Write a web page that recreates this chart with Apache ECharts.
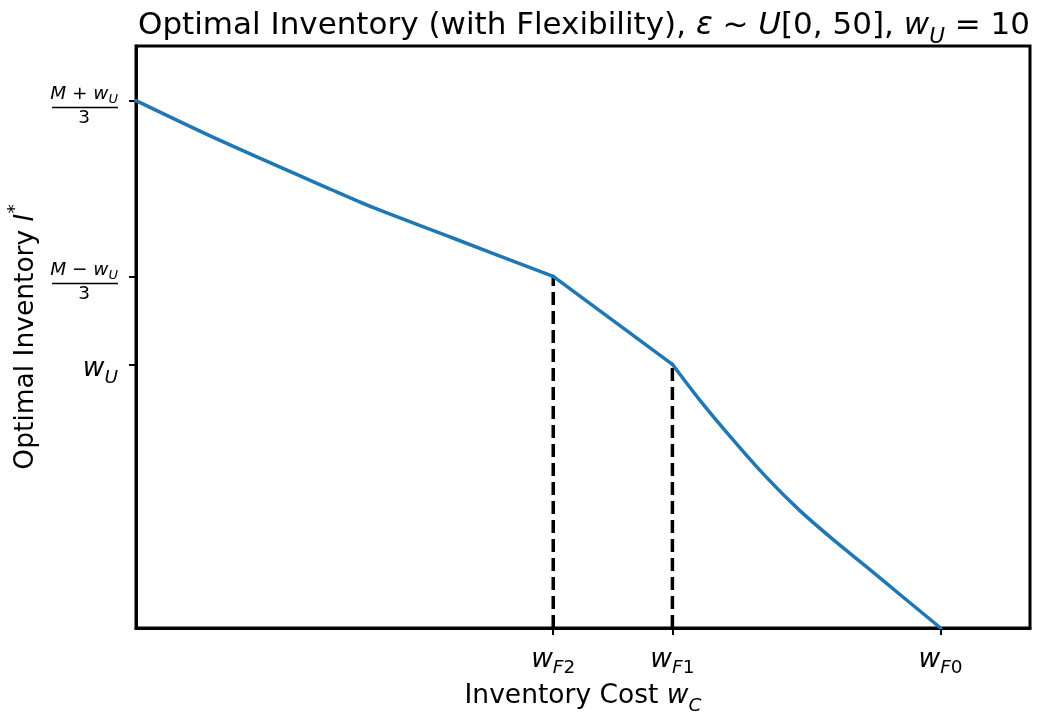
<!DOCTYPE html>
<html>
<head>
<meta charset="utf-8">
<script src="https://cdn.jsdelivr.net/npm/echarts@6/dist/echarts.min.js"></script>
<style>
  html, body { margin: 0; padding: 0; background: #fff; }
  #chart { width: 1039px; height: 715px; }
</style>
</head>
<body>
<div id="chart"></div>
<script>
// Optimal inventory I* as a function of the inventory cost w_C, in three pieces
const costLow = [0, 0.934, 2.202, 2.65, 3.551, 4.667];
const inventoryLow = [20, 18.50, 16.60, 15.95, 14.78, 13.333];
const costMid = [4.667, 6.0];
const inventoryMid = [13.333, 10.0];
const costHigh = [6.0, 6.293, 6.667, 7.034, 7.426, 7.799, 8.172, 8.545, 9.0];
const inventoryHigh = [10.0, 8.70, 7.18, 5.78, 4.45, 3.35, 2.32, 1.27, 0];

// Thresholds on the cost axis
const wF2 = 4.667, wF1 = 6.0, wF0 = 9.0;
const xTickValues = [wF2, wF1, wF0];
const xTickLabels = ['{w|w}{si|F}{sn|2}', '{w|w}{si|F}{sn|1}', '{w|w}{si|F}{sn|0}'];

// Levels on the inventory axis: w_U, (M - w_U)/3, (M + w_U)/3 with M = 50, w_U = 10
const yTickValues = [10, 40 / 3, 20];
const yTickLabels = [
  '{w|w}{ws|U}',
  '{m|M}{op| − }{m|w}{ms|U}\n{bar| }\n{den|3}',
  '{m|M}{op| + }{m|w}{ms|U}\n{bar| }\n{den|3}'
];

const FONT = '"DejaVu Sans", sans-serif';
const ital = (size, extra) => Object.assign({ fontFamily: FONT, fontStyle: 'italic', fontWeight: 'normal', fontSize: size, color: '#000' }, extra || {});
const norm = (size, extra) => Object.assign({ fontFamily: FONT, fontStyle: 'normal', fontWeight: 'normal', fontSize: size, color: '#000' }, extra || {});

const LABEL = 26.5, TITLE = 31, SUB = 18.5;

const chart = echarts.init(document.getElementById('chart'), null, { renderer: 'canvas' });

const pairs = (xs, ys) => xs.map((x, i) => [x, ys[i]]);
const curveStyle = { color: '#1f77b4', width: 3.5, cap: 'round', join: 'round' };
const guideStyle = { color: '#000', width: 3.5, type: [13, 6] };

chart.setOption({
  animation: false,
  backgroundColor: '#fff',
  title: {
    text: '{t|Optimal Inventory (with Flexibility), }{ti|ε}{t| ~ }{ti|U}{t|[0, 50], }{ti|w}{tsub|U}{t| = 10}',
    left: 133,
    top: 1,
    textStyle: {
      fontFamily: FONT, fontWeight: 'normal', fontSize: TITLE, color: '#000',
      rich: {
        t: norm(TITLE, { lineHeight: 40 }),
        ti: ital(TITLE, { lineHeight: 40 }),
        tsub: ital(21.5, { lineHeight: 40, verticalAlign: 'bottom', padding: [0, 0, -2, 0] })
      }
    }
  },
  grid: {
    left: 136, right: 9, top: 46, bottom: 87,
    outerBoundsMode: 'none',
    containLabel: false,
    show: true, borderColor: '#000', borderWidth: 3, backgroundColor: 'transparent'
  },
  xAxis: {
    type: 'value', min: 0, max: 10,
    name: '{n|Inventory Cost }{w|w}{s|C}',
    nameLocation: 'middle', nameGap: 46,
    nameTextStyle: {
      fontFamily: FONT, fontSize: LABEL,
      rich: {
        n: norm(LABEL, { lineHeight: 32 }),
        w: ital(LABEL, { lineHeight: 32 }),
        s: ital(SUB, { lineHeight: 32, verticalAlign: 'bottom', padding: [0, 0, -3, 0] })
      }
    },
    splitLine: { show: false },
    axisLine: { show: true, onZero: false, lineStyle: { color: '#000', width: 3 } },
    axisTick: { show: true, length: 7, lineStyle: { color: '#000', width: 2 }, customValues: xTickValues },
    axisLabel: {
      customValues: xTickValues,
      margin: 17,
      formatter: (v) => xTickLabels[xTickValues.indexOf(v)],
      rich: {
        w: ital(LABEL, { lineHeight: 30 }),
        si: ital(SUB, { lineHeight: 30, verticalAlign: 'bottom', padding: [0, 0, -3, 0] }),
        sn: norm(SUB, { lineHeight: 30, verticalAlign: 'bottom', padding: [0, 0, -3, 0] })
      }
    }
  },
  yAxis: {
    type: 'value', min: 0, max: 22.07,
    name: '{n|Optimal Inventory }{i|I}{sup|*}',
    nameLocation: 'middle', nameGap: 92, nameRotate: 90,
    nameTextStyle: {
      fontFamily: FONT, fontSize: LABEL,
      rich: {
        n: norm(LABEL, { lineHeight: 32 }),
        i: ital(LABEL, { lineHeight: 32 }),
        sup: norm(SUB, { lineHeight: 32, verticalAlign: 'top', padding: [-4, 0, 0, 0] })
      }
    },
    splitLine: { show: false },
    axisLine: { show: true, onZero: false, lineStyle: { color: '#000', width: 3 } },
    axisTick: { show: true, length: 7, lineStyle: { color: '#000', width: 2 }, customValues: yTickValues },
    axisLabel: {
      customValues: yTickValues,
      margin: 18,
      padding: [10, 0, 0, 0],
      formatter: (v) => yTickLabels[yTickValues.indexOf(v)],
      rich: {
        w: ital(LABEL, { lineHeight: 30 }),
        ws: ital(SUB, { lineHeight: 30, verticalAlign: 'bottom', padding: [0, 0, -3, 0] }),
        m: ital(18.5, { lineHeight: 22 }),
        op: norm(18.5, { lineHeight: 22 }),
        ms: ital(13, { lineHeight: 22, verticalAlign: 'bottom', padding: [0, 0, -1, 0] }),
        bar: { width: 66, height: 1.5, lineHeight: 4, fontSize: 1, backgroundColor: '#000' },
        den: norm(18.5, { lineHeight: 18, width: 66, align: 'center' })
      }
    }
  },
  series: [
    {
      type: 'line', name: 'wF2', data: [[wF2, 0], [wF2, inventoryMid[0]]],
      symbol: 'none', z: 2, silent: true, lineStyle: guideStyle
    },
    {
      type: 'line', name: 'wF1', data: [[wF1, 0], [wF1, inventoryMid[1]]],
      symbol: 'none', z: 2, silent: true, lineStyle: guideStyle
    },
    {
      type: 'line', name: 'I* low', data: pairs(costLow, inventoryLow),
      symbol: 'none', z: 3, smooth: 0.3, lineStyle: curveStyle
    },
    {
      type: 'line', name: 'I* mid', data: pairs(costMid, inventoryMid),
      symbol: 'none', z: 3, lineStyle: curveStyle
    },
    {
      type: 'line', name: 'I* high', data: pairs(costHigh, inventoryHigh),
      symbol: 'none', z: 3, smooth: 0.3, lineStyle: curveStyle
    }
  ]
});
</script>
</body>
</html>
